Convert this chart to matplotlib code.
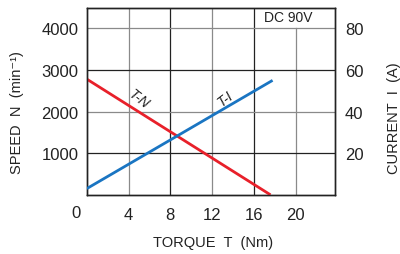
import matplotlib
matplotlib.use('Agg')
import matplotlib.pyplot as plt

# torque-speed / torque-current curves at DC 90V
torque_tn = [0, 17.6]
speed_tn = [2780, 0]
torque_ti = [0, 17.8]
current_ti = [3.0, 55.0]

x_ticks = [4, 8, 12, 16, 20]
speed_ticks = [1000, 2000, 3000, 4000]
current_ticks = [20, 40, 60, 80]

red = '#e8202a'
blue = '#1a75c2'
fonts = ['Liberation Sans', 'DejaVu Sans']
txt = '#222222'

fig = plt.figure(figsize=(4.0, 2.55), dpi=100)
ax = fig.add_axes([0.217, 0.232, 0.621, 0.733])

ax.set_xlim(0, 23.8)
ax.set_ylim(0, 4490)

# grid: alternating dark / grey lines
for t in x_ticks:
    col = '#222222' if t % 8 == 0 else '#8a8a8a'
    top = 4000 / 4490 if t == 20 else 1
    ax.axvline(t, ymax=top, color=col, lw=0.9, zorder=1)
for s in speed_ticks:
    col = '#222222' if s % 2000 == 1000 else '#8a8a8a'
    ax.axhline(s, color=col, lw=0.9, zorder=1)

ax.plot(torque_tn, speed_tn, color=red, lw=2.0, zorder=3, solid_capstyle='butt')

ax2 = ax.twinx()
ax2.set_ylim(0, 89.8)
ax2.plot(torque_ti, current_ti, color=blue, lw=2.0, zorder=3, solid_capstyle='butt')

ax.set_xticks(x_ticks)
ax.set_xticklabels([str(t) for t in x_ticks], fontfamily=fonts, fontsize=12)
ax.set_yticks(speed_ticks)
ax.set_yticklabels([str(s) for s in speed_ticks], fontfamily=fonts, fontsize=12)
ax2.set_yticks(current_ticks)
ax2.set_yticklabels([str(c) for c in current_ticks], fontfamily=fonts, fontsize=12)
ax.tick_params(length=0, pad=6, colors=txt)
ax2.tick_params(length=0, pad=7, colors=txt)
ax.tick_params(axis='x', pad=9)

ax.text(-0.043, -0.095, '0', transform=ax.transAxes, ha='center', va='center',
        fontfamily=fonts, fontsize=12, color=txt)

for a in (ax, ax2):
    for sp in a.spines.values():
        sp.set_color('#222222')
        sp.set_linewidth(1.0)

ax.set_xlabel('TORQUE  T  (Nm)', fontfamily=fonts, fontsize=10.5, color=txt)
ax.set_ylabel('SPEED  N  (min\u207b\u00b9)', fontfamily=fonts, fontsize=10.5, color=txt)
ax2.set_ylabel('CURRENT  I  (A)', fontfamily=fonts, fontsize=10.5, color=txt)
ax.xaxis.set_label_coords(0.509, -0.216)
ax.yaxis.set_label_coords(-0.253, 0.448)
ax2.yaxis.set_label_coords(1.209, 0.416)

ax.text(19.3, 4270, 'DC 90V', ha='center', va='center', fontfamily=fonts, fontsize=10, color=txt)
ax.text(5.0, 2320, 'T-N', rotation=-38, ha='center', va='center', fontfamily=fonts,
        fontsize=10, style='italic', color=txt)
ax2.text(13.3, 46.5, 'T-I', rotation=38, ha='center', va='center', fontfamily=fonts,
         fontsize=10, style='italic', color=txt)

fig.savefig('out.png', dpi=100)
